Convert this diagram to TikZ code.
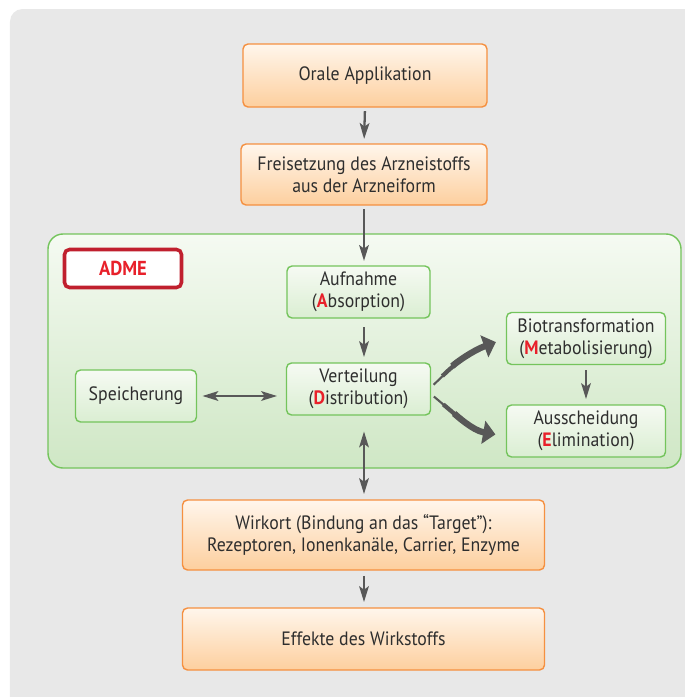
\documentclass[tikz,border=0pt]{standalone}
\usepackage{fontspec}
\setmainfont{PT Sans}[FakeStretch=0.92]
\usepackage{tikz}
\usetikzlibrary{positioning, arrows.meta}

\definecolor{bggray}{HTML}{E8E8E8}
\definecolor{orline}{HTML}{F59040}
\definecolor{ortop}{HTML}{FFF6EC}
\definecolor{orbot}{HTML}{FDCF9E}
\definecolor{grline}{HTML}{74C45C}
\definecolor{grtop}{HTML}{F6FAF3}
\definecolor{grbot}{HTML}{DAEED2}
\definecolor{paneltop}{HTML}{F5FAF2}
\definecolor{panelbot}{HTML}{CFE7C5}
\definecolor{admered}{HTML}{E8202A}
\definecolor{admeline}{HTML}{C0202E}
\definecolor{arrgray}{HTML}{585858}
\definecolor{txt}{HTML}{2E2E2E}

\newcommand{\rl}[1]{\textcolor{admered}{\textbf{#1}}}

\begin{document}
\begin{tikzpicture}[on grid, >=Stealth,
    font=\fontsize{11}{12.6}\selectfont, text=txt,
    obox/.style={draw=orline, line width=0.8pt, rounded corners=0.1cm,
      top color=ortop, bottom color=orbot, align=center, inner sep=0pt},
    gbox/.style={draw=grline, line width=0.8pt, rounded corners=0.1cm,
      top color=grtop, bottom color=grbot, align=center, inner sep=0pt,
      minimum height=1.04cm},
    link/.style={->, draw=arrgray, line width=1.3pt,
      >={Stealth[length=9pt, width=5.5pt, inset=2pt]}},
    twoway/.style={link, <->},
    fatarrow/.style={draw=arrgray, line width=#1},
    fathead/.style={->, draw=arrgray, line width=3.6pt,
      >={Triangle[length=7pt, width=13pt]}}]
  \useasboundingbox (0,0) rectangle (13.68,-13.94);
  % background and ADME panel
  \fill[bggray, rounded corners=0.25cm] (0.2,-0.18) rectangle (14.2,-14.4);
  \draw[draw=grline, line width=0.8pt, rounded corners=0.3cm,
    top color=paneltop, bottom color=panelbot] (0.96,-4.68) rectangle (13.62,-9.36);

  \node[obox, minimum width=4.88cm, minimum height=1.26cm] (oral) at (7.3,-1.51) {Orale Applikation};
  \node[obox, minimum width=4.92cm, minimum height=1.22cm, below=1.98cm of oral, xshift=-0.02cm] (frei)
    {Freisetzung des Arzneistoffs\\aus der Arzneiform};
  \node[gbox, minimum width=2.86cm, below=2.35cm of frei, xshift=-0.11cm] (auf)
    {Aufnahme\\(\rl{A}bsorption)};
  \node[gbox, minimum width=2.88cm, below=1.94cm of auf] (vert)
    {Verteilung\\(\rl{D}istribution)};
  \node[gbox, minimum width=2.42cm, left=4.45cm of vert, yshift=-0.14cm] (spei) {Speicherung};
  \node[gbox, minimum width=3.18cm, right=4.55cm of vert, yshift=1.01cm] (bio)
    {Biotransformation\\(\rl{M}etabolisierung)};
  \node[gbox, minimum width=3.18cm, below=1.85cm of bio] (aus)
    {Ausscheidung\\(\rl{E}limination)};
  \node[obox, minimum width=7.24cm, minimum height=1.4cm, below=2.92cm of vert, xshift=0.1cm] (wirk)
    {Wirkort (Bindung an das “Target”):\\Rezeptoren, Ionenkanäle, Carrier, Enzyme};
  \node[obox, minimum width=7.24cm, minimum height=1.24cm, below=2.08cm of wirk] (eff)
    {Effekte des Wirkstoffs};
  \node[draw=admeline, line width=2pt, rounded corners=0.1cm, fill=white,
    minimum width=2.34cm, minimum height=0.76cm, text=admered,
    font=\fontsize{11.5}{13}\selectfont\bfseries] (adme) at (2.46,-5.37) {ADME};

  \draw[link, shorten <=2pt, shorten >=2.5pt] (oral.south) -- (frei.north);
  \draw[link, shorten <=2pt, shorten >=2.5pt] (frei.south) -- (auf.north -| frei.south);
  \draw[link, shorten <=5pt, shorten >=3pt] (auf.south -| frei.south) -- (vert.north -| frei.south);
  \draw[twoway, shorten <=9pt, shorten >=3pt] (vert.south -| frei.south) -- (wirk.north -| frei.south);
  \draw[link, shorten <=3pt, shorten >=3pt] (wirk.south -| frei.south) -- (eff.north -| frei.south);
  \draw[twoway, shorten <=3pt, shorten >=5pt] (spei.east) -- (spei.east -| vert.west);
  \draw[link, shorten <=3pt, shorten >=3pt] (bio.south) -- (aus.north);
  % tapered arrows to metabolism and elimination
  \draw[fatarrow=1.2pt, shorten <=2pt, shorten >=14pt] ([yshift=1pt]vert.east) to[out=45, in=200] (bio.west);
  \draw[fatarrow=2.4pt, shorten <=9pt, shorten >=12pt] ([yshift=1pt]vert.east) to[out=45, in=200] (bio.west);
  \draw[fathead, shorten <=17pt, shorten >=6pt] ([yshift=1pt]vert.east) to[out=45, in=200] (bio.west);
  \draw[fatarrow=1.2pt, shorten <=2pt, shorten >=14pt] ([yshift=-3pt]vert.east) to[out=-40, in=170] ([yshift=-3pt]aus.west);
  \draw[fatarrow=2.4pt, shorten <=9pt, shorten >=12pt] ([yshift=-3pt]vert.east) to[out=-40, in=170] ([yshift=-3pt]aus.west);
  \draw[fathead, shorten <=17pt, shorten >=6pt] ([yshift=-3pt]vert.east) to[out=-40, in=170] ([yshift=-3pt]aus.west);
\end{tikzpicture}
\end{document}
